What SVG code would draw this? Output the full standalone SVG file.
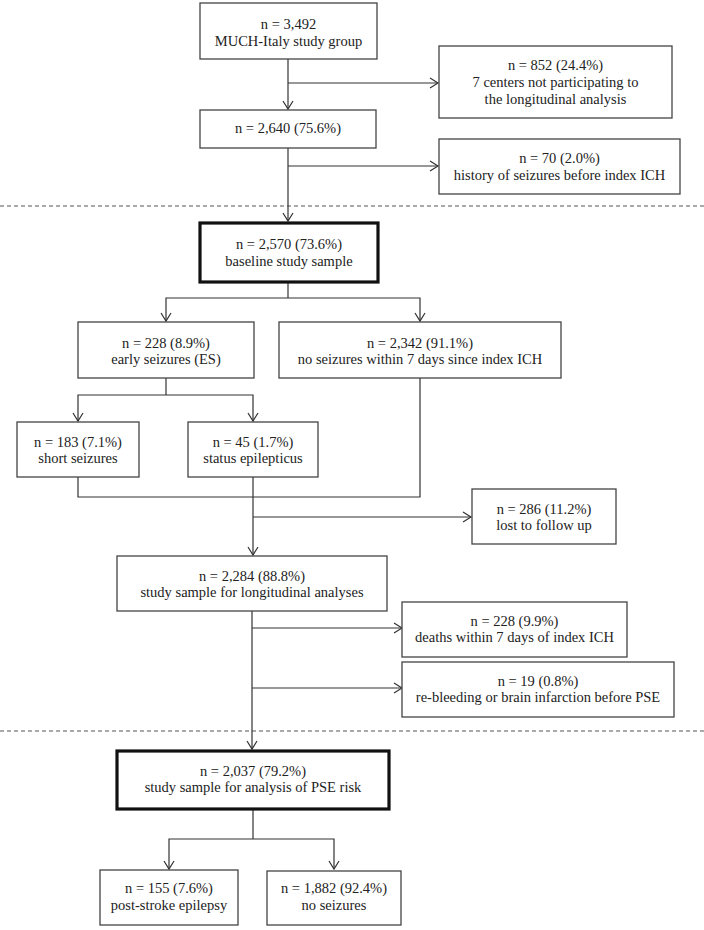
<svg xmlns="http://www.w3.org/2000/svg" width="704" height="930" viewBox="0 0 704 930">
<defs>
<marker id="arr" viewBox="-10 -6 12 12" refX="0" refY="0" markerWidth="12" markerHeight="12" markerUnits="userSpaceOnUse" orient="auto">
<path d="M-8,-5 L0,0 L-8,5" fill="none" stroke="#333" stroke-width="1.2"/>
</marker>
<style>
.box{fill:#fff;stroke:#444;stroke-width:1.3}
.thick{fill:#fff;stroke:#111;stroke-width:3.2}
.t{font-family:"Liberation Serif","Times New Roman",serif;font-size:14.5px;fill:#222;text-anchor:middle}
.c{fill:none;stroke:#333;stroke-width:1.2}
.a{fill:none;stroke:#333;stroke-width:1.2;marker-end:url(#arr)}
.d{fill:none;stroke:#555;stroke-width:1.2;stroke-dasharray:4 3}
</style>
</defs>
<rect width="704" height="930" fill="#fff"/>
<g id="dividers">
<line class="d" x1="0" y1="206" x2="704" y2="206"/>
<line class="d" x1="0" y1="731" x2="704" y2="731"/>
</g>
<g id="connectors">
<path class="a" d="M288,59 V109"/>
<path class="a" d="M288,83 H438"/>
<path class="a" d="M288,148 V221"/>
<path class="a" d="M288,166 H438"/>
<path class="c" d="M288,282 V298"/>
<path class="a" d="M288,298 H166 V321"/>
<path class="a" d="M288,298 H420 V321"/>
<path class="c" d="M166,378 V395"/>
<path class="a" d="M166,395 H78 V421"/>
<path class="a" d="M166,395 H253 V421"/>
<path class="c" d="M78,477 V497 H420 V378"/>
<path class="a" d="M253,477 V555"/>
<path class="a" d="M253,517 H471"/>
<path class="a" d="M252,611 V749"/>
<path class="a" d="M252,628 H402"/>
<path class="a" d="M252,688 H402"/>
<path class="c" d="M253,809 V839"/>
<path class="a" d="M253,839 H169 V869"/>
<path class="a" d="M253,839 H334 V869"/>
</g>
<g id="n3492">
<rect class="box" x="200" y="3" width="177" height="56"/>
<text class="t" x="288.5" y="29">n = 3,492</text>
<text class="t" x="288.5" y="46">MUCH-Italy study group</text>
</g>
<g id="n852">
<rect class="box" x="439" y="46" width="233" height="72"/>
<text class="t" x="555.5" y="70">n = 852 (24.4%)</text>
<text class="t" x="555.5" y="87">7 centers not participating to</text>
<text class="t" x="555.5" y="104">the longitudinal analysis</text>
</g>
<g id="n2640">
<rect class="box" x="200" y="110" width="176" height="38"/>
<text class="t" x="288" y="133">n = 2,640 (75.6%)</text>
</g>
<g id="n70">
<rect class="box" x="439" y="139" width="241" height="55"/>
<text class="t" x="559.5" y="163">n = 70 (2.0%)</text>
<text class="t" x="559.5" y="180">history of seizures before index ICH</text>
</g>
<g id="n2570">
<rect class="thick" x="200" y="223" width="178" height="59"/>
<text class="t" x="289" y="249">n = 2,570 (73.6%)</text>
<text class="t" x="289" y="266">baseline study sample</text>
</g>
<g id="n228es">
<rect class="box" x="78" y="322" width="176" height="56"/>
<text class="t" x="166" y="348">n = 228 (8.9%)</text>
<text class="t" x="166" y="364">early seizures (ES)</text>
</g>
<g id="n2342">
<rect class="box" x="279" y="322" width="282" height="56"/>
<text class="t" x="420" y="348">n = 2,342 (91.1%)</text>
<text class="t" x="420" y="364">no seizures within 7 days since index ICH</text>
</g>
<g id="n183">
<rect class="box" x="17" y="422" width="122" height="55"/>
<text class="t" x="78" y="447">n = 183 (7.1%)</text>
<text class="t" x="78" y="463">short seizures</text>
</g>
<g id="n45">
<rect class="box" x="188" y="422" width="130" height="55"/>
<text class="t" x="253" y="447">n = 45 (1.7%)</text>
<text class="t" x="253" y="463">status epilepticus</text>
</g>
<g id="n286">
<rect class="box" x="472" y="489" width="144" height="55"/>
<text class="t" x="544" y="514">n = 286 (11.2%)</text>
<text class="t" x="544" y="530">lost to follow up</text>
</g>
<g id="n2284">
<rect class="box" x="117" y="556" width="270" height="55"/>
<text class="t" x="252" y="581">n = 2,284 (88.8%)</text>
<text class="t" x="252" y="597">study sample for longitudinal analyses</text>
</g>
<g id="n228d">
<rect class="box" x="402" y="602" width="225" height="55"/>
<text class="t" x="514.5" y="626">n = 228 (9.9%)</text>
<text class="t" x="514.5" y="642">deaths within 7 days of index ICH</text>
</g>
<g id="n19">
<rect class="box" x="402" y="662" width="272" height="55"/>
<text class="t" x="538" y="686">n = 19 (0.8%)</text>
<text class="t" x="538" y="702">re-bleeding or brain infarction before PSE</text>
</g>
<g id="n2037">
<rect class="thick" x="117" y="751" width="272" height="58"/>
<text class="t" x="253" y="776">n = 2,037 (79.2%)</text>
<text class="t" x="253" y="792">study sample for analysis of PSE risk</text>
</g>
<g id="n155">
<rect class="box" x="100" y="870" width="138" height="55"/>
<text class="t" x="169" y="893">n = 155 (7.6%)</text>
<text class="t" x="169" y="910">post-stroke epilepsy</text>
</g>
<g id="n1882">
<rect class="box" x="267" y="871" width="134" height="54"/>
<text class="t" x="334" y="893">n = 1,882 (92.4%)</text>
<text class="t" x="334" y="910">no seizures</text>
</g>
</svg>
